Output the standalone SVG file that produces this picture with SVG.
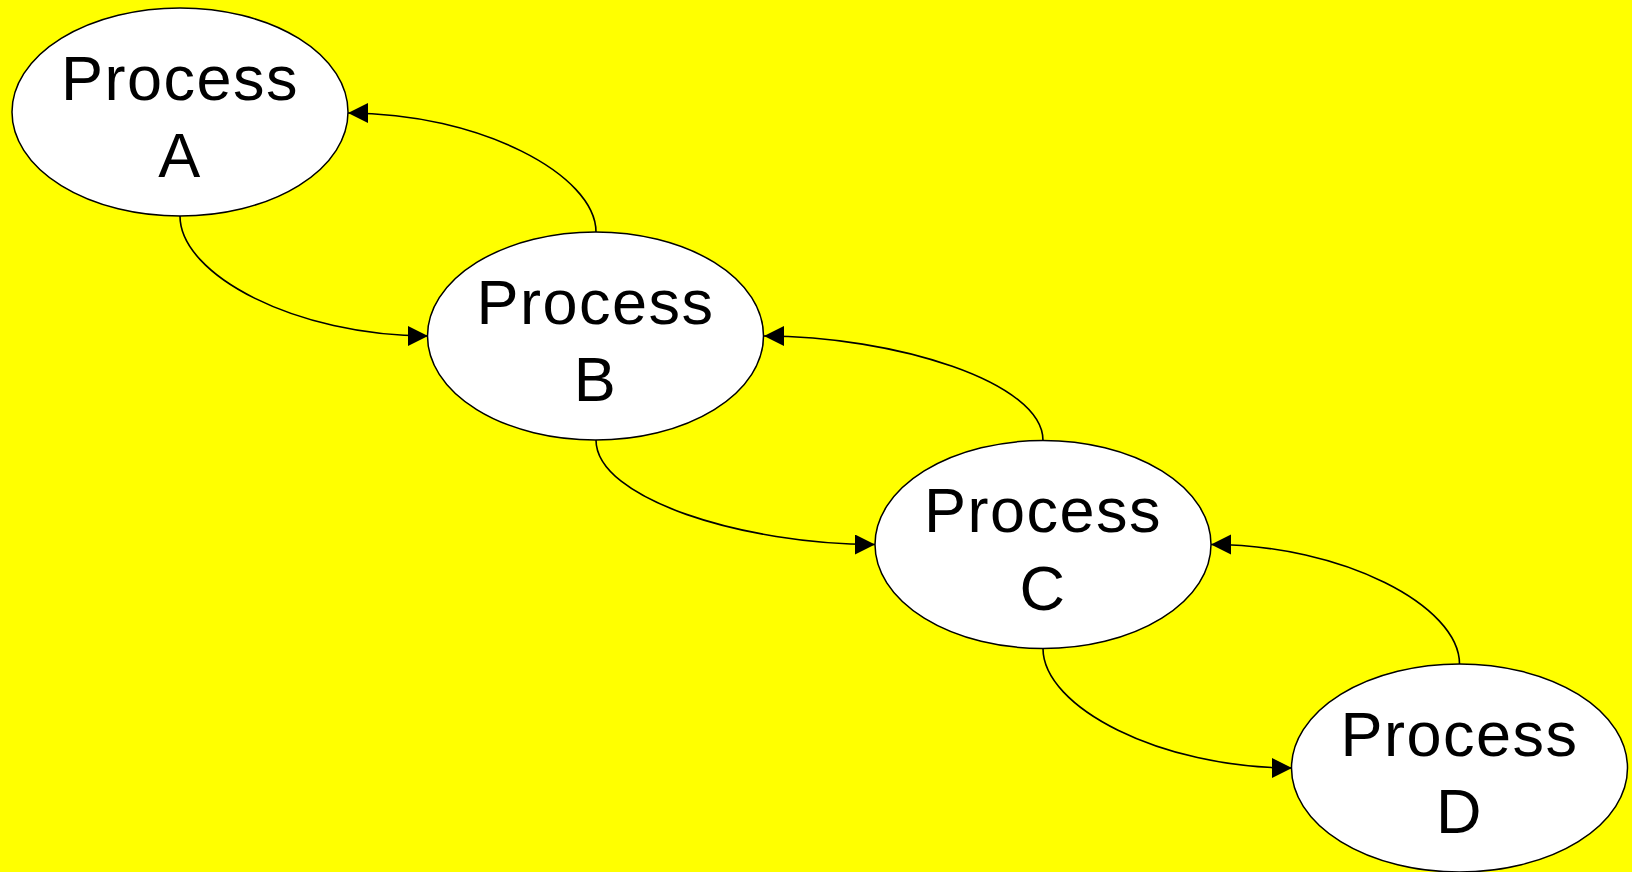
<svg xmlns="http://www.w3.org/2000/svg" width="1632" height="872" viewBox="0 0 1632 872">
<style>
.node ellipse{fill:#ffffff;stroke:#000000;stroke-width:1.5}
.node text{font-family:"Liberation Sans",Arial,sans-serif;font-size:63px;fill:#000000;text-anchor:middle;letter-spacing:1.5px}
.edge{fill:none;stroke:#000000;stroke-width:1.6;marker-end:url(#arrow)}
</style>
<defs>
<marker id="arrow" markerUnits="userSpaceOnUse" markerWidth="22" markerHeight="22" refX="20" refY="10" orient="auto">
<path d="M0,0 L20,10 L0,20 Z" fill="#000000"/>
</marker>
</defs>
<rect x="0" y="0" width="1632" height="872" fill="#ffff00"/>
<g id="connectors">
<path class="edge" d="M180,216 C180,275 296,336 428,336"/>
<path class="edge" d="M596,232 C596,175 480,113 348,113"/>
<path class="edge" d="M596,440 C596,499 744,544.5 875,544.5"/>
<path class="edge" d="M1043,440.5 C1043,382 894,336 764,336"/>
<path class="edge" d="M1043,648.5 C1043,707 1160,768 1292,768"/>
<path class="edge" d="M1459.5,664 C1459.5,606 1343,544.5 1211,544.5"/>
</g>
<g id="nodeA" class="node">
<ellipse cx="180" cy="112" rx="168" ry="104"/>
<text x="180" y="99.5">Process</text>
<text x="180" y="177">A</text>
</g>
<g id="nodeB" class="node">
<ellipse cx="595.5" cy="336" rx="168" ry="104"/>
<text x="595.5" y="323.5">Process</text>
<text x="595.5" y="401">B</text>
</g>
<g id="nodeC" class="node">
<ellipse cx="1043" cy="544.5" rx="168" ry="104"/>
<text x="1043" y="532">Process</text>
<text x="1043" y="609.5">C</text>
</g>
<g id="nodeD" class="node">
<ellipse cx="1459.5" cy="768" rx="168" ry="104"/>
<text x="1459.5" y="755.5">Process</text>
<text x="1459.5" y="833">D</text>
</g>
</svg>
